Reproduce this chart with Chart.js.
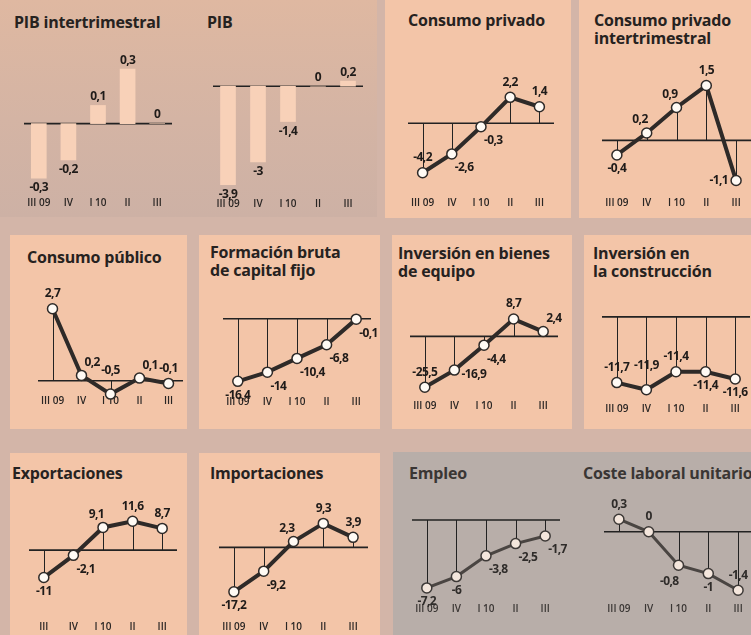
<!DOCTYPE html>
<html>
<head>
<meta charset="utf-8">
<script src="https://cdn.jsdelivr.net/npm/chart.js@4.4.1/dist/chart.umd.min.js"></script>
<style>
  body { margin: 0; width: 751px; height: 635px; overflow: hidden; position: relative;
         background: #d3b5a8; font-family: 'Open Sans', sans-serif; }
  .bg { position: absolute; background: #f3c5a8; }
  .t { position: absolute; font-weight: 700; font-size: 16px; line-height: 18px;
       color: #262220; white-space: nowrap; letter-spacing: -0.2px; }
  canvas { position: absolute; }
</style>
</head>
<body>
<!-- fondos de los paneles -->
<div class="bg" style="left:0;top:0;width:377px;height:217px;background:linear-gradient(180deg,#dfb8a1 0%,#d4b4a4 55%,#cdb1a5 100%)"></div>
<div class="bg" style="left:385px;top:0;width:186px;height:218px"></div>
<div class="bg" style="left:579px;top:0;width:172px;height:218px"></div>
<div class="bg" style="left:10px;top:235px;width:177px;height:194px"></div>
<div class="bg" style="left:199px;top:235px;width:181px;height:194px"></div>
<div class="bg" style="left:392px;top:235px;width:180px;height:194px"></div>
<div class="bg" style="left:584px;top:235px;width:167px;height:194px"></div>
<div class="bg" style="left:10px;top:453px;width:177px;height:182px"></div>
<div class="bg" style="left:199px;top:453px;width:181px;height:182px"></div>
<div class="bg" style="left:393px;top:452px;width:358px;height:183px;background:#b8aea9"></div>

<!-- títulos -->
<div class="t" style="left:14px;top:13px">PIB intertrimestral</div>
<div class="t" style="left:207px;top:13px">PIB</div>
<div class="t" style="left:408px;top:11px">Consumo privado</div>
<div class="t" style="left:594px;top:11px">Consumo privado<br>intertrimestral</div>
<div class="t" style="left:27px;top:248px">Consumo público</div>
<div class="t" style="left:210px;top:243px">Formación bruta<br>de capital fijo</div>
<div class="t" style="left:398px;top:244px">Inversión en bienes<br>de equipo</div>
<div class="t" style="left:593px;top:244px">Inversión en<br>la construcción</div>
<div class="t" style="left:12px;top:464px">Exportaciones</div>
<div class="t" style="left:210px;top:464px">Importaciones</div>
<div class="t" style="left:409px;top:464px;color:#3a3634">Empleo</div>
<div class="t" style="left:583px;top:464px;color:#3a3634">Coste laboral unitario</div>

<script>
// Trimestres
const trimestres = ['III 09', 'IV', 'I 10', 'II', 'III'];
const trimestresExport = ['III', 'IV', 'I 10', 'II', 'III'];

// Tasas (%)
const pibInter = [-0.3, -0.2, 0.1, 0.3, 0];
const pib = [-3.9, -3, -1.4, 0, 0.2];
const consumoPrivado = [-4.2, -2.6, -0.3, 2.2, 1.4];
const consumoPrivadoInter = [-0.4, 0.2, 0.9, 1.5, -1.1];
const consumoPublico = [2.7, 0.2, -0.5, 0.1, -0.1];
const formacionBruta = [-16.4, -14, -10.4, -6.8, -0.1];
const bienesEquipo = [-25.5, -16.9, -4.4, 8.7, 2.4];
const construccion = [-11.7, -11.9, -11.4, -11.4, -11.6];
const exportaciones = [-11, -2.1, 9.1, 11.6, 8.7];
const importaciones = [-17.2, -9.2, 2.3, 9.3, 3.9];
const empleo = [-7.2, -6, -3.8, -2.5, -1.7];
const costeLaboral = [0.3, 0, -0.8, -1, -1.4];

Chart.defaults.font.family = "'Open Sans', sans-serif";

// posición de las etiquetas respecto al punto: [dx, dy, alineación]
const POS = {
    a: [0, -15, 'center'], a2: [0, -24, 'center'], b: [0, 14, 'center'],
    r: [7, 4, 'left'], l: [-8, 0, 'right'],
    ar: [3, -13, 'left'], al: [1, -13, 'right'],
    br: [3, 14, 'left'], bl: [0, 16, 'right'],
    up: [0, -9, 'center'], down: [0, 10, 'center']
};

const fmt = v => String(v).replace('.', ',');

// línea de cero, líneas verticales y cifras
const decor = {
    id: 'decor',
    beforeDatasetsDraw(chart, args, opts) {
        const { ctx, chartArea } = chart;
        const y = chart.scales.y;
        const by = y.getPixelForValue(opts.base);
        ctx.save();
        ctx.strokeStyle = '#222';
        if (opts.stems) {
            ctx.lineWidth = 1;
            chart.getDatasetMeta(0).data.forEach(p => {
                ctx.beginPath();
                ctx.moveTo(Math.round(p.x) + 0.5, by);
                ctx.lineTo(Math.round(p.x) + 0.5, p.y);
                ctx.stroke();
            });
        }
        ctx.lineWidth = 1.6;
        ctx.beginPath();
        ctx.moveTo(chartArea.left, by);
        ctx.lineTo(chartArea.right, by);
        ctx.stroke();
        ctx.restore();
    },
    afterDatasetsDraw(chart, args, opts) {
        const { ctx } = chart;
        const values = chart.data.datasets[0].data;
        ctx.save();
        ctx.font = 'bold 12px "Open Sans", sans-serif';
        ctx.letterSpacing = '-0.6px';
        ctx.fillStyle = opts.color;
        ctx.textBaseline = 'middle';
        chart.getDatasetMeta(0).data.forEach((p, i) => {
            const v = values[i];
            const code = opts.pos ? opts.pos[i] : (v >= 0 ? 'up' : 'down');
            const [dx, dy, align] = POS[code];
            const py = opts.pos ? p.y : (v >= 0 ? Math.min(p.y, p.base) : Math.max(p.y, p.base));
            ctx.textAlign = align;
            ctx.fillText(fmt(v), p.x + dx, py + dy);
        });
        ctx.restore();
    }
};

const PAD = 12;

function panel(cfg) {
    const canvas = document.createElement('canvas');
    const h = Math.round(cfg.labelY + 9.6 - cfg.top);
    canvas.width = Math.round(cfg.width + 2 * PAD);
    canvas.height = h;
    canvas.style.left = (cfg.left - PAD) + 'px';
    canvas.style.top = cfg.top + 'px';
    document.body.appendChild(canvas);

    const base = cfg.base || 0;
    const bottom = cfg.top + h - 19.2;
    const yMax = base + (cfg.zeroY - cfg.top) / cfg.k;
    const yMin = base - (bottom - cfg.zeroY) / cfg.k;
    const grey = cfg.grey;

    const dataset = cfg.type === 'bar' ? {
        data: cfg.data,
        backgroundColor: '#f8d1b8',
        barThickness: 15
    } : {
        data: cfg.data,
        borderColor: grey ? '#4a4542' : '#2e2a28',
        borderWidth: grey ? 3 : 4,
        tension: 0,
        pointRadius: 5,
        pointBackgroundColor: grey ? '#f4e6dc' : '#fffaf4',
        pointBorderColor: grey ? '#3d3937' : '#2e2a28',
        pointBorderWidth: 1.5,
        clip: false
    };

    return new Chart(canvas, {
        type: cfg.type || 'line',
        data: { labels: cfg.labels || trimestres, datasets: [dataset] },
        options: {
            responsive: false,
            animation: false,
            events: [],
            layout: { padding: { left: PAD, right: PAD, top: 0, bottom: 0 } },
            plugins: {
                legend: { display: false },
                tooltip: { enabled: false },
                decor: { base: base, stems: cfg.type !== 'bar', pos: cfg.pos, color: grey ? '#2f2c2a' : '#1f1b19' }
            },
            scales: {
                x: {
                    offset: true,
                    grid: { display: false, drawTicks: false },
                    border: { display: false },
                    ticks: {
                        autoSkip: false, maxRotation: 0, padding: 3,
                        color: grey ? '#3a3634' : '#2a2624',
                        font: { size: 10, weight: '600' }
                    }
                },
                y: { display: false, min: yMin, max: yMax }
            }
        },
        plugins: [decor]
    });
}

// Fila 1
panel({ type: 'bar', data: pibInter, left: 24, width: 148, top: 50, labelY: 202, zeroY: 123, k: 180 });
panel({ type: 'bar', data: pib, left: 212.5, width: 150, top: 65, labelY: 203, zeroY: 86, k: 25 });
panel({ data: consumoPrivado, left: 408.4, width: 146, top: 65, labelY: 202, zeroY: 119, k: 12.3,
        pos: ['a', 'br', 'br', 'a', 'a'] });
panel({ data: consumoPrivadoInter, left: 602, width: 149, top: 55, labelY: 202, zeroY: 137, k: 38,
        pos: ['b', 'al', 'al', 'a', 'l'] });

// Fila 2
panel({ data: consumoPublico, left: 37.5, width: 145, top: 280, labelY: 400, zeroY: 379, k: 28,
        pos: ['a', 'ar', 'a2', 'ar', 'a'] });
panel({ data: formacionBruta, left: 222.5, width: 147.5, top: 300, labelY: 401, zeroY: 313, k: 4.05,
        pos: ['b', 'br', 'br', 'br', 'br'] });
panel({ data: bienesEquipo, left: 409.5, width: 147.5, top: 290, labelY: 405, zeroY: 332, k: 2.1,
        pos: ['a', 'r', 'br', 'a', 'ar'] });
panel({ data: construccion, left: 601.5, width: 147.5, top: 300, labelY: 408, zeroY: 311, k: 38, base: -9.874,
        pos: ['a', 'a2', 'a', 'b', 'b'] });

// Fila 3
panel({ data: exportaciones, labels: trimestresExport, left: 28.5, width: 147.5, top: 488, labelY: 626, zeroY: 546, k: 2.6,
        pos: ['b', 'br', 'al', 'a', 'a'] });
panel({ data: importaciones, left: 218.5, width: 148.5, top: 495, labelY: 626, zeroY: 543, k: 2.7,
        pos: ['b', 'br', 'al', 'a', 'a'] });
panel({ data: empleo, left: 411.5, width: 147.5, top: 505, labelY: 608, zeroY: 514, k: 10, grey: true,
        pos: ['b', 'b', 'br', 'br', 'br'] });
panel({ data: costeLaboral, left: 604, width: 148.5, top: 492, labelY: 608, zeroY: 527, k: 44, grey: true,
        pos: ['a', 'a', 'bl', 'b', 'a'] });
</script>
</body>
</html>
